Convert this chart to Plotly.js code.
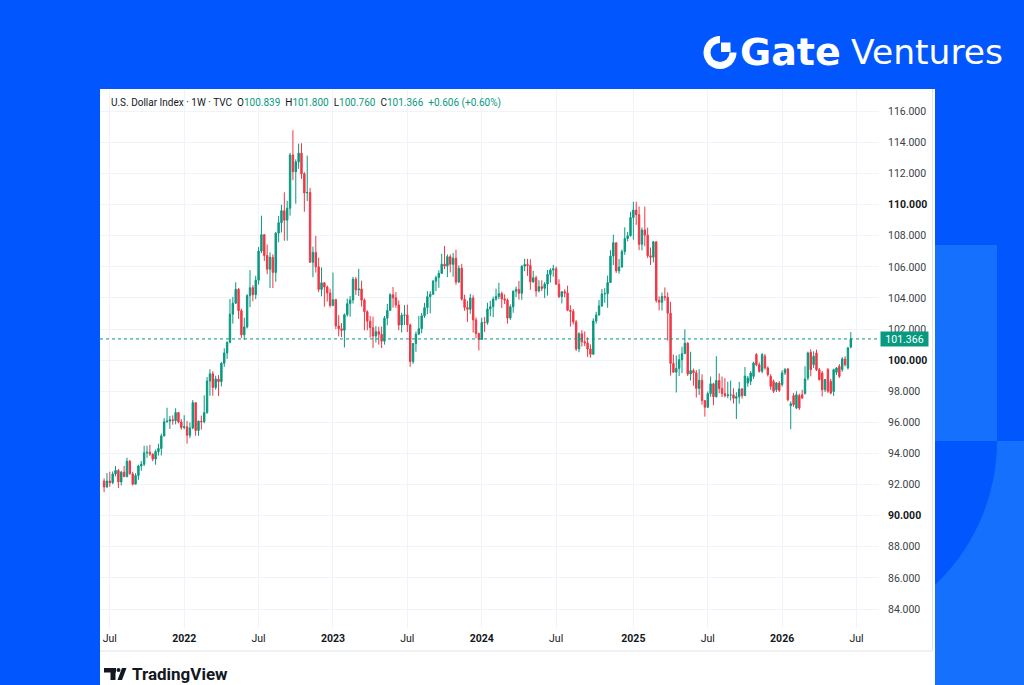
<!DOCTYPE html>
<html><head><meta charset="utf-8">
<script src="https://cdn.plot.ly/plotly-3.0.1.min.js"></script>
<style>html,body{margin:0;padding:0;background:#0256fd;overflow:hidden}#chart{width:1024px;height:685px}</style>
</head><body><div id="chart"></div>
<script>
// ---- DATA: U.S. Dollar Index, weekly candles (TVC) ----
const firstWeek = '2021-06-21';
const opens = [
 92.23,91.85,92.23,92.12,92.68,92.91,92.17,92.80,92.52,93.50,92.69,92.03,92.58,93.20,93.31,94.04,94.08,93.96,93.64,94.12,94.32,95.13,96.04,96.08,96.17,96.11,96.63,96.03,
 95.67,95.72,95.17,95.64,97.27,95.48,96.08,96.04,96.63,98.66,99.12,98.24,98.79,98.62,99.80,100.46,101.15,102.96,103.66,104.56,103.18,101.63,102.14,104.15,104.66,104.21,105.14,107.01,108.07,106.73,105.85,106.61,105.64,108.17,108.84,109.61,109.00,109.77,113.19,112.12,112.75,113.31,111.98,110.75,110.78,106.29,106.93,106.00,104.55,104.97,104.70,104.32,
 103.52,103.89,102.20,102.02,101.92,102.92,103.63,103.87,105.21,104.52,104.58,103.86,103.12,102.51,102.09,101.55,101.83,101.66,101.22,102.70,103.20,104.21,104.01,103.55,102.26,102.89,102.91,102.27,99.91,101.07,101.67,102.02,102.85,103.38,104.08,104.24,105.08,105.32,105.58,106.17,106.05,106.65,106.16,106.56,105.02,105.91,103.92,103.39,103.27,104.00,102.59,101.71,
 101.33,102.42,102.41,103.29,103.44,103.92,104.10,104.28,103.94,103.86,102.71,103.43,104.43,104.55,104.30,106.04,106.15,106.09,105.04,105.30,104.45,104.72,104.62,104.89,105.51,105.80,105.87,104.88,104.09,104.40,104.32,103.21,103.14,102.46,100.72,101.70,101.18,101.11,100.72,100.38,102.52,102.90,103.49,104.26,104.28,104.99,106.69,107.55,105.74,105.99,106.99,107.82,108.00,
 109.17,109.65,109.35,107.45,108.37,108.04,106.71,106.62,107.61,103.84,103.72,104.09,104.04,103.02,99.79,99.23,99.47,100.03,100.42,101.09,99.11,99.33,99.19,98.18,98.71,97.40,96.97,97.85,98.48,97.65,98.69,98.18,97.85,97.72,97.77,97.77,97.55,97.65,98.15,97.72,
 98.53,98.64,98.96,100.36,99.71,99.28,100.25,99.50,98.96,98.64,98.10,98.53,
 98.43,99.18,99.43,97.07,97.72,96.92,97.72,97.78,97.85,98.85,100.51,99.71,100.46,99.39,99.18,98.10,99.39,98.64,97.99,99.22,99.61,99.39,100.08,99.50,100.839
];
const highs = [
 92.40,92.74,92.83,92.84,93.19,93.00,92.88,93.20,93.73,93.58,92.83,92.73,93.27,93.52,94.50,94.50,94.56,94.00,94.25,94.63,95.27,96.27,96.94,96.42,96.45,96.91,96.67,96.21,
 96.46,96.09,96.00,97.44,97.27,96.12,96.43,97.74,98.92,99.42,99.29,99.00,99.04,99.88,100.76,101.20,103.93,104.07,105.01,104.64,103.31,102.73,104.24,105.79,104.82,105.43,107.27,109.29,108.08,107.43,106.93,106.81,108.23,109.27,109.99,110.79,110.25,113.33,114.78,112.91,113.92,113.95,112.09,113.15,111.08,107.30,107.99,106.59,105.96,105.03,104.80,104.60,
 105.63,103.95,102.90,102.39,103.00,103.96,104.12,105.36,105.36,105.88,105.11,103.97,103.21,102.84,102.80,102.19,102.15,102.16,102.84,103.62,104.31,104.70,104.38,103.84,103.05,103.54,103.57,102.34,101.09,101.84,102.84,103.04,103.68,104.44,104.44,105.16,105.43,105.78,106.84,107.35,106.80,106.80,106.89,107.11,106.10,106.19,104.21,103.82,104.26,104.18,102.75,101.77,
 102.73,102.77,103.69,103.82,104.08,104.60,104.97,104.41,104.23,103.97,103.58,104.49,104.73,105.10,106.11,106.52,106.51,106.49,105.74,105.43,105.14,105.14,105.03,105.80,105.91,106.13,106.02,105.20,104.42,104.55,104.79,103.53,103.28,102.58,101.79,101.93,101.85,101.47,101.02,102.69,103.11,103.87,104.57,104.63,105.44,107.07,108.07,107.55,106.51,107.11,108.54,108.24,109.54,
 110.18,110.18,109.88,108.53,109.88,108.52,107.24,107.67,107.62,104.10,104.35,104.68,104.36,103.75,100.36,100.30,100.38,100.86,101.98,101.16,100.54,99.46,99.37,99.42,99.09,97.41,97.99,98.95,98.55,100.25,99.15,98.95,98.84,98.62,98.69,98.19,97.94,98.60,98.20,99.56,
 98.98,99.30,99.90,100.46,99.85,100.46,100.40,99.60,99.10,98.75,98.60,98.65,
 99.35,99.50,99.50,97.35,97.90,98.00,97.85,98.10,99.61,100.55,100.70,100.57,100.68,99.50,99.30,98.80,99.50,98.80,99.45,99.55,99.75,100.20,100.25,100.85,101.800
];
const lows = [
 91.51,91.80,91.86,92.03,92.53,91.78,91.95,92.47,92.46,92.64,91.94,92.02,92.30,92.89,93.19,93.72,93.84,93.50,93.28,93.87,93.87,95.09,95.98,95.57,95.85,95.87,95.93,95.53,
 95.56,94.63,94.99,95.56,95.14,95.14,95.54,95.94,96.55,97.71,97.71,98.10,97.69,98.31,99.57,100.08,101.08,102.35,103.63,102.65,101.43,101.30,102.04,103.41,103.79,103.92,104.86,106.88,106.38,105.53,104.64,104.64,105.04,107.58,108.21,107.68,107.68,109.29,111.57,110.06,112.30,111.65,109.54,110.23,106.27,105.34,105.63,104.37,104.11,103.44,103.77,103.39,
 103.47,101.99,101.53,101.49,100.82,102.80,102.79,103.64,104.20,104.12,103.45,101.92,101.92,101.45,100.79,101.14,101.00,100.78,101.00,102.25,103.15,103.38,103.36,101.92,101.78,102.26,101.81,99.57,99.76,100.54,101.64,101.73,102.72,102.95,103.01,104.20,104.44,104.65,105.57,105.85,105.34,105.64,105.36,104.84,104.96,103.84,103.17,102.46,102.98,101.77,101.40,100.62,
 101.33,101.82,102.28,102.82,102.77,103.82,103.92,103.36,103.61,102.35,102.59,103.05,104.06,103.89,103.88,105.72,105.42,104.52,104.96,104.08,104.36,104.44,103.99,104.15,104.99,105.37,104.87,103.99,103.65,104.04,103.15,102.16,102.30,100.59,100.51,100.88,100.90,100.21,100.16,100.35,102.34,102.87,103.43,103.69,103.37,104.96,106.12,105.61,105.56,105.95,106.77,107.64,107.95,
 107.75,108.70,107.07,107.06,107.33,106.56,106.12,106.29,103.70,103.20,103.19,103.82,101.26,99.01,99.18,97.92,98.98,99.17,100.42,98.98,98.69,98.35,97.60,97.76,97.13,96.37,96.92,97.65,97.11,97.60,97.87,97.63,97.60,97.55,97.40,97.21,96.22,97.20,97.53,97.70,
 98.30,98.40,98.80,99.61,99.20,99.15,99.40,98.95,98.10,97.89,97.95,97.95,
 98.30,99.05,97.35,95.57,97.00,96.85,96.80,97.50,97.80,98.70,98.96,99.50,99.30,98.70,97.67,97.95,97.90,97.80,97.70,99.05,98.85,99.25,99.60,99.40,100.760
];
const closes = [
 91.85,92.23,92.12,92.68,92.91,92.17,92.80,92.52,93.50,92.69,92.03,92.58,93.20,93.31,94.04,94.08,93.96,93.64,94.12,94.32,95.13,96.04,96.08,96.17,96.11,96.63,96.03,95.67,
 95.72,95.17,95.64,97.27,95.48,96.08,96.04,96.63,98.66,99.12,98.24,98.79,98.62,99.80,100.46,101.15,102.96,103.66,104.56,103.18,101.63,102.14,104.15,104.66,104.21,105.14,107.01,108.07,106.73,105.85,106.61,105.64,108.17,108.84,109.61,109.00,109.77,113.19,112.12,112.75,113.31,111.98,110.75,110.78,106.29,106.93,106.00,104.55,104.97,104.70,104.32,103.52,
 103.89,102.20,102.02,101.92,102.92,103.63,103.87,105.21,104.52,104.58,103.86,103.12,102.51,102.09,101.55,101.83,101.66,101.22,102.70,103.20,104.21,104.01,103.55,102.26,102.89,102.91,102.27,99.91,101.07,101.67,102.02,102.85,103.38,104.08,104.24,105.08,105.32,105.58,106.17,106.05,106.65,106.16,106.56,105.02,105.91,103.92,103.39,103.27,104.00,102.59,101.71,101.33,
 102.42,102.41,103.29,103.44,103.92,104.10,104.28,103.94,103.86,102.71,103.43,104.43,104.55,104.30,106.04,106.15,106.09,105.04,105.30,104.45,104.72,104.62,104.89,105.51,105.80,105.87,104.88,104.09,104.40,104.32,103.21,103.14,102.46,100.72,101.70,101.18,101.11,100.72,100.38,102.52,102.90,103.49,104.26,104.28,104.99,106.69,107.55,105.74,105.99,106.99,107.82,108.00,109.17,
 109.65,109.35,107.45,108.37,108.04,106.71,106.62,107.61,103.84,103.72,104.09,104.04,103.02,99.79,99.23,99.47,100.03,100.42,101.09,99.11,99.33,99.19,98.18,98.71,97.40,96.97,97.85,98.48,97.65,98.69,98.18,97.85,97.72,97.77,97.77,97.55,97.65,98.15,97.72,98.98,
 98.85,99.18,99.82,99.71,99.28,100.36,99.50,99.07,98.32,98.00,98.53,98.06,
 99.18,99.39,97.46,97.20,97.14,97.78,96.92,97.57,98.79,100.46,99.39,100.25,99.39,98.75,98.10,98.75,98.00,97.89,99.39,99.50,98.96,100.08,99.71,100.79,101.366
];
const xTickDates  = ['2021-07-05','2022-01-03','2022-07-04','2023-01-02','2023-07-03','2024-01-01','2024-07-01','2025-01-06','2025-07-07','2026-01-05','2026-07-06'];
const xTickLabels = ['Jul','2022','Jul','2023','Jul','2024','Jul','2025','Jul','2026','Jul'];
const yTickValues = [84,86,88,90,92,94,96,98,100,102,104,106,108,110,112,114,116];
const lastPrice = 101.366;
const lastBar = {o:'100.839', h:'101.800', l:'100.760', c:'101.366', chg:'+0.606 (+0.60%)'};

// ---- build ----
const t0 = Date.UTC(2021,5,21);
const dates = opens.map((_, i) => new Date(t0 + i*7*86400000).toISOString().slice(0,10));

const BASE = '#0256fd', LIGHT = '#1670fe', GREEN = '#089981', RED = '#f23645';
const L = 100, R = 879, T = 90, B = 628;
const px = v => (v - L) / (R - L);
const py = v => (B - v) / (B - T);
function rect(x0,y0,x1,y1,color,layer){return {type:'rect',xref:'paper',yref:'paper',x0:px(x0),x1:px(x1),y0:py(y1),y1:py(y0),fillcolor:color,line:{width:0},layer:layer||'below'};}
function circ(x0,y0,x1,y1,color){return {type:'circle',xref:'paper',yref:'paper',x0:px(x0),x1:px(x1),y0:py(y1),y1:py(y0),fillcolor:color,line:{width:0},layer:'below'};}
function poly(pts,color){return {type:'path',xref:'paper',yref:'paper',path:'M'+pts.map(p=>px(p[0])+','+py(p[1])).join(' L')+' Z',fillcolor:color,line:{width:0},layer:'below'};}
function hline(x0,x1,y,color){return {type:'line',xref:'paper',yref:'paper',x0:px(x0),x1:px(x1),y0:py(y),y1:py(y),line:{color:color,width:1},layer:'below'};}
function vline(x,y0,y1,color){return {type:'line',xref:'paper',yref:'paper',x0:px(x),x1:px(x),y0:py(y0),y1:py(y1),line:{color:color,width:1},layer:'below'};}

const shapes = [
  rect(935,441,1024,685,LIGHT),
  circ(601,243,997,639,BASE),
  rect(935,245,997,441,LIGHT),
  rect(100,89,935,685,'#ffffff'),
  hline(100,932,651,'#e0e3eb'),
  vline(932.5,89,651,'#e0e3eb'),
  {type:'line',xref:'paper',yref:'y',x0:0,x1:1,y0:lastPrice,y1:lastPrice,line:{color:GREEN,width:1,dash:'dot'},layer:'above'},
  // Gate icon
  circ(703.5,36,736.5,69,'#ffffff'),
  rect(720,34,738,52.5,BASE),
  circ(710.5,43,729.5,62,BASE),
  rect(721,42.5,730.5,52,'#ffffff'),
  // TradingView icon
  rect(104,668,116,672.5,'#131722'),
  rect(110.5,668,115.5,680,'#131722'),
  circ(116.5,668,120.5,672,'#131722'),
  poly([[117.5,680],[122,680],[126.5,668],[122,668]],'#131722')
];

const hdr = 'U.S. Dollar Index · 1W · TVC&nbsp;&nbsp;O<span style="color:'+GREEN+'">'+lastBar.o+'</span>&nbsp;&nbsp;H<span style="color:'+GREEN+'">'+lastBar.h+
  '</span>&nbsp;&nbsp;L<span style="color:'+GREEN+'">'+lastBar.l+'</span>&nbsp;&nbsp;C<span style="color:'+GREEN+'">'+lastBar.c+'</span>&nbsp;&nbsp;<span style="color:'+GREEN+'">'+lastBar.chg+'</span>';

const annotations = [
  {xref:'paper',yref:'paper',x:px(109),y:py(103),xanchor:'left',yanchor:'middle',showarrow:false,text:hdr,font:{family:'Roboto',size:10,color:'#131722'}},
  {xref:'paper',yref:'y',x:px(880),y:lastPrice,xanchor:'left',yanchor:'middle',showarrow:false,text:'101.366',font:{family:'Roboto',size:10.5,color:'#ffffff'},bgcolor:GREEN,width:44,height:11,borderpad:1.5},
  {xref:'paper',yref:'paper',x:px(738),y:py(52),xanchor:'left',yanchor:'middle',showarrow:false,text:'<b>Gate</b>',font:{family:'DejaVu Sans',size:38,color:'#ffffff'}},
  {xref:'paper',yref:'paper',x:px(849),y:py(52),xanchor:'left',yanchor:'middle',showarrow:false,text:'Ventures',font:{family:'DejaVu Sans',size:34.5,color:'#ffffff'}},
  {xref:'paper',yref:'paper',x:px(130),y:py(674),xanchor:'left',yanchor:'middle',showarrow:false,text:'<b>TradingView</b>',font:{family:'Roboto',size:17,color:'#131722'}}
];

const xText = xTickLabels.map(s => /^\d{4}$/.test(s) ? '<b>'+s+'</b>' : s);
const yText = yTickValues.map(v => v % 10 === 0 ? '<span style="color:#131722"><b>'+v.toFixed(3)+'</b></span>' : v.toFixed(3));

const trace = {
  type:'candlestick', x:dates, open:opens, high:highs, low:lows, close:closes,
  increasing:{line:{color:GREEN,width:1},fillcolor:GREEN},
  decreasing:{line:{color:RED,width:1},fillcolor:RED},
  whiskerwidth:0, hoverinfo:'skip', showlegend:false
};

const layout = {
  width:1024, height:685,
  margin:{l:L, r:1024-R, t:T, b:685-B, pad:0},
  paper_bgcolor:BASE, plot_bgcolor:'rgba(0,0,0,0)',
  showlegend:false,
  xaxis:{type:'date', range:['2021-06-11','2026-08-30'], rangeslider:{visible:false},
    tickmode:'array', tickvals:xTickDates, ticktext:xText, ticks:'', showline:false, zeroline:false,
    showgrid:true, gridcolor:'#f0f3fa', gridwidth:1, ticklabelstandoff:2,
    tickfont:{family:'Roboto', size:10.5, color:'#131722'}},
  yaxis:{range:[82.78,117.37], side:'right', tickmode:'array', tickvals:yTickValues, ticktext:yText,
    ticks:'', showline:false, zeroline:false, showgrid:true, gridcolor:'#f0f3fa', gridwidth:1,
    ticklabelstandoff:8, tickfont:{family:'Roboto', size:10.5, color:'#3c3f48'}},
  shapes:shapes, annotations:annotations, boxgap:0.3
};

Plotly.newPlot('chart', [trace], layout, {staticPlot:true, displayModeBar:false});
</script></body></html>
